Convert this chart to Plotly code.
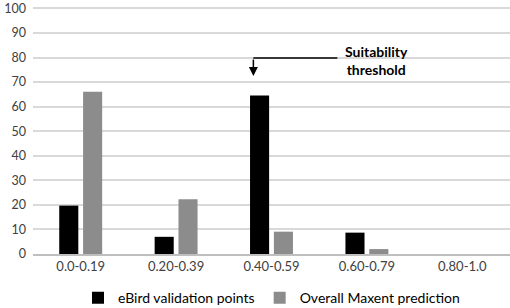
import plotly.graph_objects as go

categories = ["0.0-0.19", "0.20-0.39", "0.40-0.59", "0.60-0.79", "0.80-1.0"]
ebird_values = [19.7, 7.0, 64.6, 8.7, 0.0]
maxent_values = [66.1, 22.3, 9.1, 2.0, 0.0]
y_ticks = [0, 10, 20, 30, 40, 50, 60, 70, 80, 90, 100]

FONT = "Lato"

fig = go.Figure()
fig.add_trace(go.Bar(x=categories, y=ebird_values, name="eBird validation points",
                     marker=dict(color="#000000", line=dict(width=0))))
fig.add_trace(go.Bar(x=categories, y=maxent_values, name="Overall Maxent prediction",
                     marker=dict(color="#8c8c8c", line=dict(width=0))))

# Elbow arrow annotation (in data coords: category index 2 = "0.40-0.59")
fig.add_shape(type="line", xref="x", yref="y", x0=2.69, y0=79.8, x1=1.81, y1=79.8,
              line=dict(color="black", width=1.5))
fig.add_annotation(x=1.81, y=72.5, ax=1.81, ay=79.8, xref="x", yref="y", axref="x", ayref="y",
                   text="", showarrow=True, arrowhead=2, arrowsize=1.2, arrowwidth=1.5,
                   arrowcolor="black")
fig.add_annotation(x=3.1, y=79, xref="x", yref="y", text="<b>Suitability<br>threshold</b>",
                   showarrow=False, font=dict(family=FONT, size=14, color="black"),
                   align="center")

fig.update_layout(
    width=510, height=308,
    margin=dict(l=33, r=0, t=6, b=54),
    paper_bgcolor="white", plot_bgcolor="white",
    barmode="group", bargap=0.5, bargroupgap=0.2,
    font=dict(family=FONT, size=13, color="#404040"),
    showlegend=True,
    legend=dict(orientation="h", x=0.5, xanchor="center", yref="container",
                y=0.032, yanchor="middle",
                font=dict(family=FONT, size=14, color="black"),
                itemwidth=30, tracegroupgap=0, traceorder="normal"),
    xaxis=dict(showgrid=False, showline=True, linecolor="#bfbfbf", linewidth=1.5,
               ticks="", tickfont=dict(size=13, color="#404040"), range=[-0.5, 4.5],
               automargin=False),
    yaxis=dict(range=[0, 101], tickvals=y_ticks, showgrid=True, gridcolor="#d9d9d9",
               gridwidth=1.5, zeroline=False, showline=False, ticks="",
               tickfont=dict(size=12.5, color="#404040"), ticklabelstandoff=6,
               ticklabeloverflow="allow", automargin=False),
)

fig.write_html("out.html", config={"displayModeBar": False},
               post_script="document.body.style.margin='0';document.body.style.padding='0';"
                           "document.documentElement.style.overflow='hidden';")
